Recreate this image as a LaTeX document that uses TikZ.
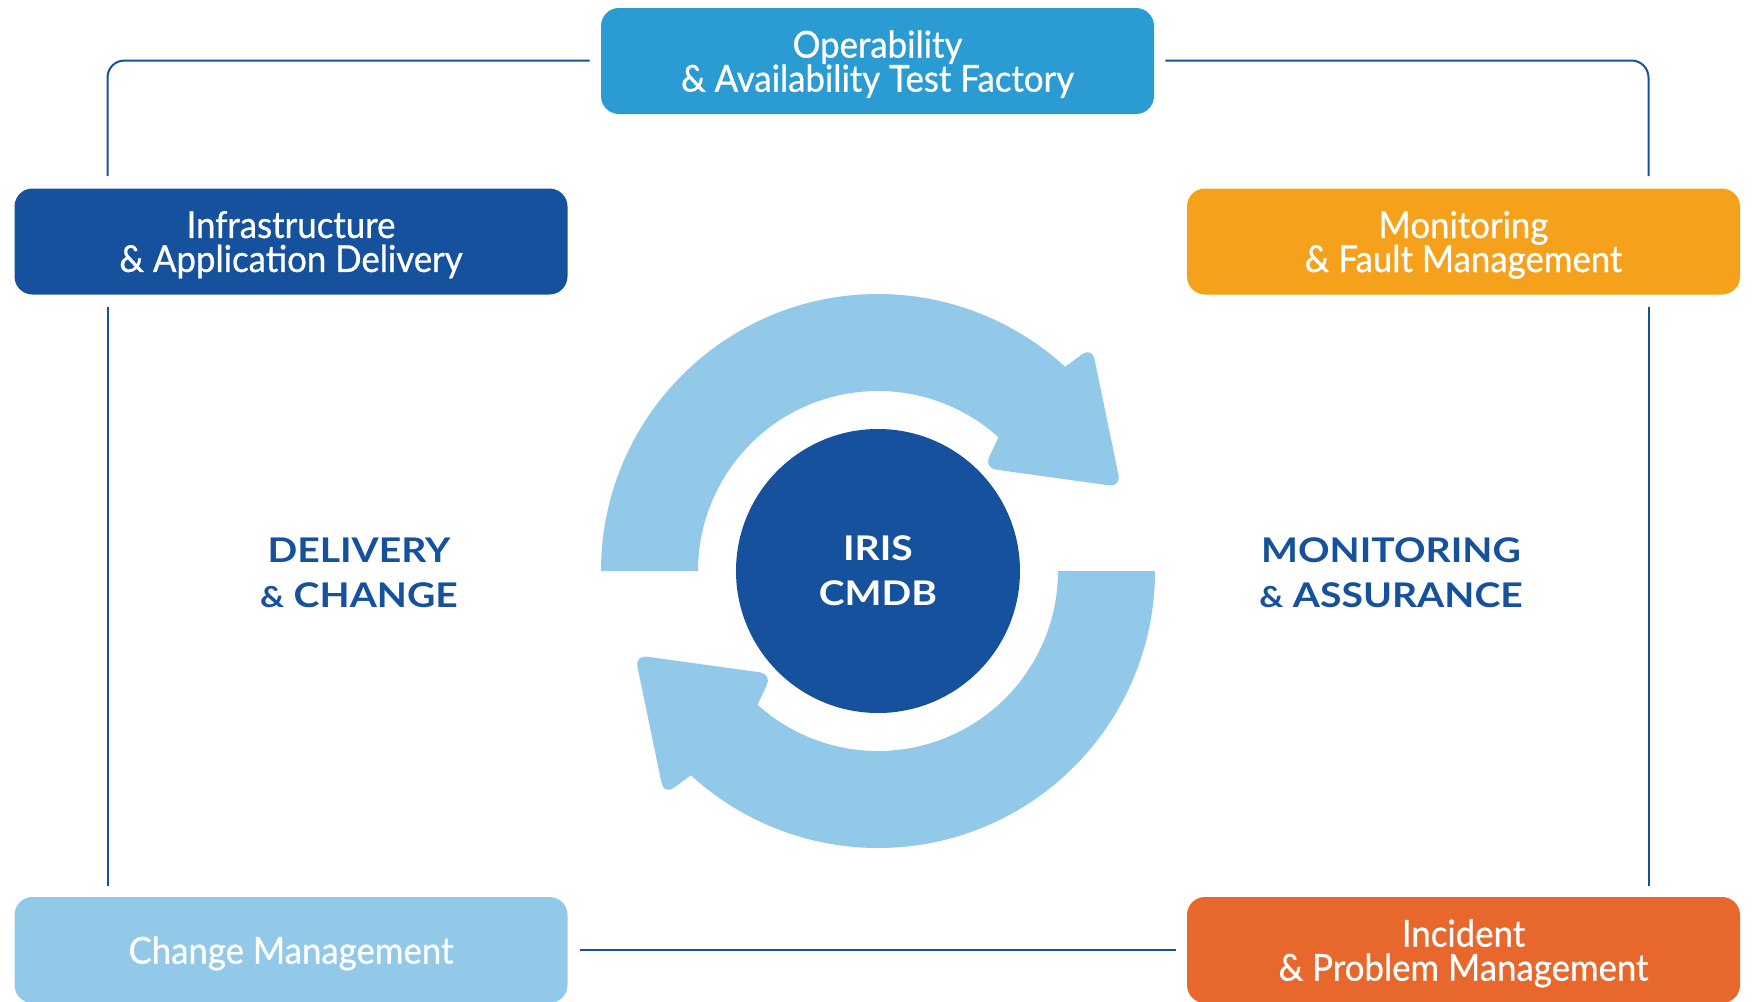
\documentclass[tikz,border=0pt]{standalone}
\usepackage{fontspec}
\newfontfamily\boxfont{Lato}[FakeStretch=0.94,FakeBold=0.7]
\newfontfamily\capfont{Lato}[FakeStretch=1.15]
\usepackage{tikz}
\usetikzlibrary{positioning,calc}
\definecolor{navy}{HTML}{15519C}
\definecolor{opsblue}{HTML}{2B9BD3}
\definecolor{amber}{HTML}{F5A11C}
\definecolor{sky}{HTML}{92C8E8}
\definecolor{rust}{HTML}{E8672C}
\setlength\lineskiplimit{-20pt}
\tikzset{
    stage box/.style={
        rounded corners=9pt,
        minimum width=276.5pt,
        minimum height=53pt,
        inner sep=0pt,
        align=center,
        text=white,
        text depth=-3pt,
        font=\boxfont\fontsize{18.5}{17}\selectfont
    },
    area label/.style={
        align=center,
        text=navy,
        font=\capfont\bfseries\fontsize{17}{22.5}\selectfont
    },
    frame/.style={
        draw=navy,
        line width=1pt,
        shorten <=6pt,
        shorten >=5.5pt
    },
    ring/.style={fill=sky}
}
\newcommand\amp{{\fontsize{14.5}{22.5}\selectfont\&}}

\begin{document}
\begin{tikzpicture}[x=0.5pt,y=-0.5pt]
    \useasboundingbox (0,0) rectangle (1758,1002);
    % the five boxes
    \node[stage box,fill=opsblue] (ops) at (877.5,61) {Operability\\\& Availability Test Factory};
    \node[stage box,fill=navy] (infra) at (291,241.5) {Infrastructure\\\& Application Delivery};
    \node[stage box,fill=amber] (monitor) at (1463.5,241.5) {Monitoring\\\& Fault Management};
    \node[stage box,fill=sky] (change) at (291,950) {Change Management};
    \node[stage box,fill=rust] (incident) at (1463.5,950) {Incident\\\& Problem Management};
    % centre
    \node[circle,fill=navy,minimum size=142pt,inner sep=0pt,area label,text=white] (cmdb) at (878,571) {IRIS\\CMDB};
    \node[area label] (delivery) at (359,573) {DELIVERY\\\amp{} CHANGE};
    \node[area label] (assurance) at (1391,573) {MONITORING\\\amp{} ASSURANCE};
    % frame
    \coordinate (tl) at (107.5,60.5);
    \coordinate (tr) at (1648.5,60.5);
    \draw[frame,rounded corners=8.5pt] (infra.north -| tl) -- (tl) -- (tl -| ops.west);
    \draw[frame,rounded corners=8.5pt] (monitor.north -| tr) -- (tr) -- (tr -| ops.east);
    \draw[frame] (infra.south -| tl) -- (change.north -| tl);
    \draw[frame] (monitor.south -| tr) -- (incident.north -| tr);
    \draw[frame] (change) -- (incident);
    % cycle arrows
    \foreach \turn in {0,180}
      \fill[ring,shift={(cmdb.center)},rotate=\turn]
        (180:277) arc[start angle=180,end angle=312.5,radius=277]
        [rounded corners=6pt] -- (214,-224) -- (243,-84) -- (106,-103)
        [sharp corners] -- (312:180) arc[start angle=312,end angle=180,radius=180] -- cycle;
\end{tikzpicture}
\end{document}
